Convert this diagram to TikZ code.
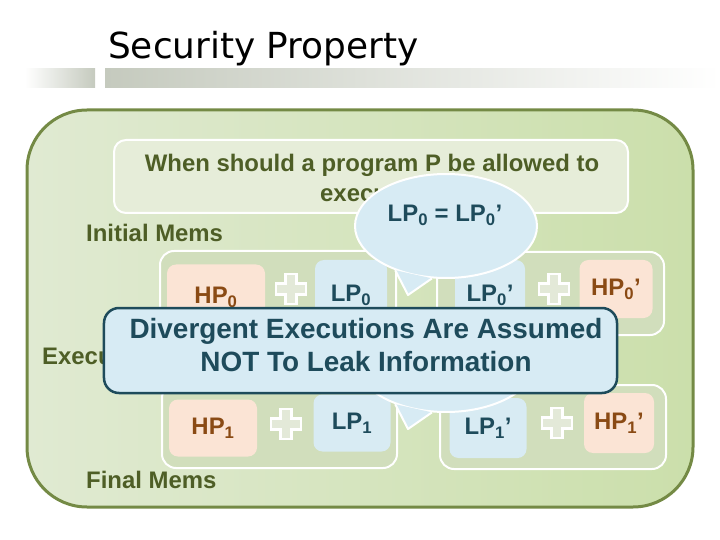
\documentclass[tikz,border=0pt]{standalone}
\usepackage{fontspec}
\setmainfont{Liberation Sans}
\newfontfamily\titlefont{DejaVu Sans}
\usetikzlibrary{shapes.geometric}

\definecolor{frameolive}{HTML}{748A45}
\definecolor{greenlight}{HTML}{E0EAD2}
\definecolor{greendeep}{HTML}{CBDFAB}
\definecolor{askfill}{HTML}{E6EDD9}
\definecolor{runfill}{HTML}{D1DEBC}
\definecolor{hpfill}{HTML}{FBE4D5}
\definecolor{lpfill}{HTML}{D8EBF3}
\definecolor{hptext}{HTML}{8A4A14}
\definecolor{lptext}{HTML}{1E4B5B}
\definecolor{olivetext}{HTML}{4E5E26}
\definecolor{barGray}{HTML}{C5CABE}
\definecolor{bubblefill}{HTML}{D7EBF4}
\definecolor{plusfill}{HTML}{E3E9D8}

\newcommand{\memfont}{\bfseries\fontsize{24}{30}\selectfont}
\newcommand{\warnfont}{\bfseries\fontsize{28}{34}\selectfont}

\begin{document}
\begin{tikzpicture}[
  x=1bp, y=-1bp,
  frame/.style={draw=frameolive, line width=3bp, rounded corners=60bp, left color=greenlight, right color=greendeep},
  askbox/.style={draw=white, line width=2bp, fill=askfill, rounded corners=12bp},
  runbox/.style={draw=white, line width=2bp, fill=runfill, rounded corners=14bp},
  hpbox/.style={fill=hpfill, rounded corners=9bp, text=hptext, font=\memfont, inner sep=0pt},
  lpbox/.style={fill=lpfill, rounded corners=9bp, text=lptext, font=\memfont, inner sep=0pt},
  olivelabel/.style={text=olivetext, font=\memfont, inner sep=0pt},
  bubble/.style={ellipse, draw=white, line width=2bp, fill=bubblefill, minimum width=182bp, minimum height=104bp, inner sep=0pt},
  divbox/.style={draw=lptext, line width=2.5bp, fill=bubblefill, rounded corners=15bp, inner sep=0pt},
  plusmark/.style={draw=white, line width=2.5bp, fill=plusfill}
]
  \useasboundingbox (0,0) rectangle (720,540);

  % title and bar
  \shade[left color=white, right color=barGray] (25,69) rectangle (95,88);
  \shade[left color=barGray, middle color=barGray, right color=white] (105,69) rectangle (720,88);
  \node[anchor=base west, inner sep=0pt, font=\titlefont\fontsize{36}{40}\selectfont] (title) at (108,59) {Security Property};

  % green frame
  \draw[frame] (27,110) rectangle (693,507);

  % question
  \draw[askbox] (114,140) rectangle (628,213);
  \node[olivelabel, align=center] (asktext) at (372,178) {When should a program P be allowed to\\execute?};

  % side labels
  \node[olivelabel, anchor=west] (initmems) at (86,233) {Initial Mems};
  \node[olivelabel, anchor=west] (execlabel) at (42,356) {Executions};
  \node[olivelabel, anchor=west] (finalmems) at (86,480) {Final Mems};

  % the two runs
  \draw[runbox] (160,251) rectangle (396,345);
  \draw[runbox] (437,252) rectangle (664,335);
  \draw[runbox] (162,384) rectangle (397,468);
  \draw[runbox] (440,385) rectangle (666,469);

  % memories
  \node[hpbox, minimum width=98bp, minimum height=65bp] (hp0) at (216,297) {HP\textsubscript{0}};
  \node[lpbox, minimum width=72bp, minimum height=70bp] (lp0) at (351,295) {LP\textsubscript{0}};
  \node[lpbox, minimum width=70bp, minimum height=70bp] (lp0b) at (490,295) {LP\textsubscript{0}’};
  \node[hpbox, minimum width=73bp, minimum height=58bp] (hp0b) at (616,289) {HP\textsubscript{0}’};
  \node[hpbox, minimum width=88bp, minimum height=57bp] (hp1) at (213,428) {HP\textsubscript{1}};
  \node[lpbox, minimum width=77bp, minimum height=57bp] (lp1) at (352,423) {LP\textsubscript{1}};
  \node[lpbox, minimum width=77bp, minimum height=60bp] (lp1b) at (488,428) {LP\textsubscript{1}’};
  \node[hpbox, minimum width=70bp, minimum height=60bp] (hp1b) at (619,423) {HP\textsubscript{1}’};

  % plus signs
  \foreach \px/\py in {291/289, 554/289, 286/424, 557/423}
    \draw[plusmark, shift={(\px,\py)}] (-5.5,-15) -- (5.5,-15) -- (5.5,-5.5) -- (15,-5.5) -- (15,5.5) -- (5.5,5.5)
      -- (5.5,15) -- (-5.5,15) -- (-5.5,5.5) -- (-15,5.5) -- (-15,-5.5) -- (-5.5,-5.5) -- cycle;

  % speech bubbles
  \foreach \bname/\cy in {up/226, low/360} {
    \node[bubble] (\bname bubble) at (446,\cy) {};
    \coordinate (\bname tip) at ([shift={(-38,69)}]\bname bubble.center);
    \fill[bubblefill] (\bname bubble.221) -- (\bname tip) -- (\bname bubble.255) -- cycle;
    \draw[white, line width=2bp, line join=round] (\bname bubble.221) -- (\bname tip) -- (\bname bubble.255);
  }
  \node[text=lptext, font=\memfont, inner sep=0pt] (eqtext) at (445,215) {LP\textsubscript{0} = LP\textsubscript{0}’};

  % warning
  \node[divbox, minimum width=513bp, minimum height=85bp] (warnbox) at (360.5,350.5) {};
  \node[text=lptext, font=\warnfont, align=center, inner sep=0pt] (warntext) at (366,345)
    {Divergent Executions Are Assumed\\NOT To Leak Information};
\end{tikzpicture}
\end{document}
